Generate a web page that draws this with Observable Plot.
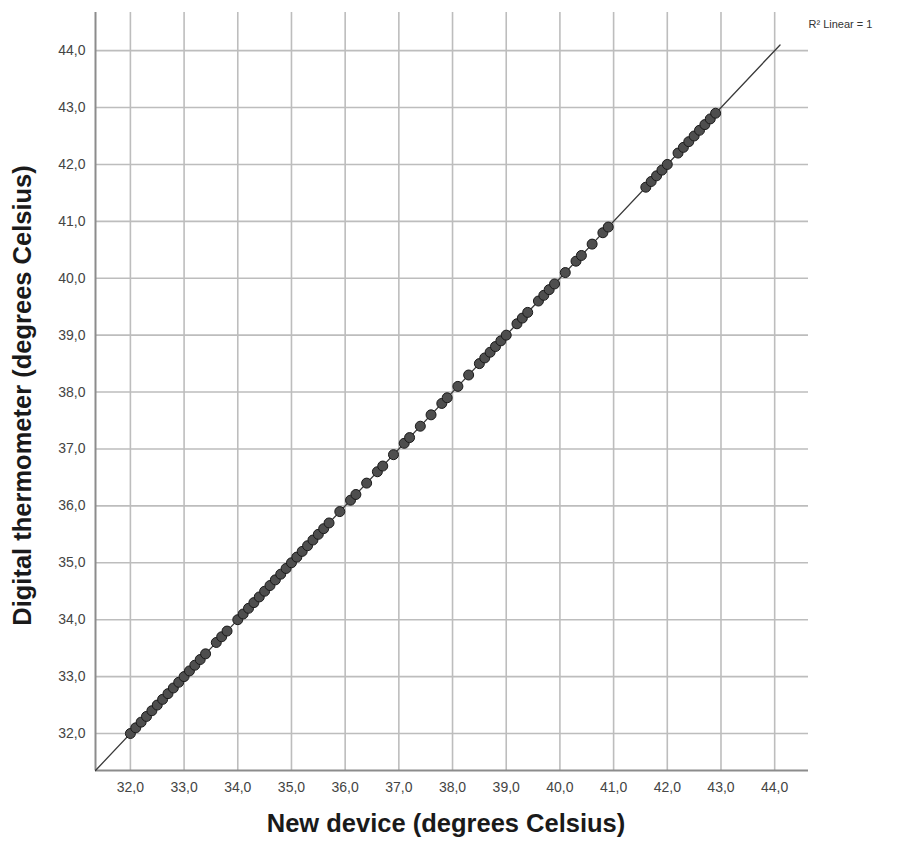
<!DOCTYPE html>
<html>
<head>
<meta charset="utf-8">
<script src="https://cdn.jsdelivr.net/npm/d3@7"></script>
<script src="https://cdn.jsdelivr.net/npm/@observablehq/plot@0.6"></script>
<style>
  html, body { margin: 0; padding: 0; background: #fff; }
  #chart { width: 901px; height: 843px; }
</style>
</head>
<body>
<div id="chart"></div>
<script>
// New device readings (°C)
const newDevice = [
  32.0, 32.1, 32.2, 32.3, 32.4, 32.5, 32.6, 32.7, 32.8, 32.9,
  33.0, 33.1, 33.2, 33.3, 33.4, 33.6, 33.7, 33.8,
  34.0, 34.1, 34.2, 34.3, 34.4, 34.5, 34.6, 34.7, 34.8, 34.9,
  35.0, 35.1, 35.2, 35.3, 35.4, 35.5, 35.6, 35.7, 35.9,
  36.1, 36.2, 36.4, 36.6, 36.7, 36.9,
  37.1, 37.2, 37.4, 37.6, 37.8, 37.9,
  38.1, 38.3, 38.5, 38.6, 38.7, 38.8, 38.9, 39.0,
  39.2, 39.3, 39.4, 39.6, 39.7, 39.8, 39.9,
  40.1, 40.3, 40.4, 40.6, 40.8, 40.9,
  41.6, 41.7, 41.8, 41.9, 42.0,
  42.2, 42.3, 42.4, 42.5, 42.6, 42.7, 42.8, 42.9
];
// Digital thermometer readings (°C)
const thermometer = [
  32.0, 32.1, 32.2, 32.3, 32.4, 32.5, 32.6, 32.7, 32.8, 32.9,
  33.0, 33.1, 33.2, 33.3, 33.4, 33.6, 33.7, 33.8,
  34.0, 34.1, 34.2, 34.3, 34.4, 34.5, 34.6, 34.7, 34.8, 34.9,
  35.0, 35.1, 35.2, 35.3, 35.4, 35.5, 35.6, 35.7, 35.9,
  36.1, 36.2, 36.4, 36.6, 36.7, 36.9,
  37.1, 37.2, 37.4, 37.6, 37.8, 37.9,
  38.1, 38.3, 38.5, 38.6, 38.7, 38.8, 38.9, 39.0,
  39.2, 39.3, 39.4, 39.6, 39.7, 39.8, 39.9,
  40.1, 40.3, 40.4, 40.6, 40.8, 40.9,
  41.6, 41.7, 41.8, 41.9, 42.0,
  42.2, 42.3, 42.4, 42.5, 42.6, 42.7, 42.8, 42.9
];
// Fit line (R² linear = 1): intercept 0, slope 1, drawn over this x extent
const fitIntercept = 0;
const fitSlope = 1;
const fitExtent = [31.35, 44.1];
// Axis ticks
const xTicks = [32, 33, 34, 35, 36, 37, 38, 39, 40, 41, 42, 43, 44];
const yTicks = [32, 33, 34, 35, 36, 37, 38, 39, 40, 41, 42, 43, 44];
const xDomain = [31.35, 44.63];
const yDomain = [31.35, 44.67];
const xTitle = "New device (degrees Celsius)";
const yTitle = "Digital thermometer (degrees Celsius)";
const fitLabel = "R\u00B2 Linear = 1";

const points = newDevice.map((x, i) => ({x, y: thermometer[i]}));
const fitLine = fitExtent.map(x => ({x, y: fitIntercept + fitSlope * x}));
const fmt = d => d.toFixed(1).replace(".", ",");

const chart = Plot.plot({
  width: 901,
  height: 843,
  marginLeft: 95,
  marginRight: 93,
  marginTop: 12,
  marginBottom: 73,
  style: {fontFamily: "'Liberation Sans', Arial, sans-serif", background: "#fff", overflow: "visible"},
  x: {domain: xDomain, ticks: xTicks},
  y: {domain: yDomain, ticks: yTicks},
  marks: [
    Plot.gridX(xTicks, {stroke: "#bdbdbd", strokeOpacity: 1, strokeWidth: 1.6}),
    Plot.gridY(yTicks, {stroke: "#bdbdbd", strokeOpacity: 1, strokeWidth: 1.6}),
    Plot.ruleX([xDomain[0]], {stroke: "#8c8c8c", strokeWidth: 2}),
    Plot.ruleY([yDomain[0]], {stroke: "#8c8c8c", strokeWidth: 2}),
    Plot.axisX(xTicks, {tickSize: 0, tickPadding: 12, tickFormat: fmt, fontSize: 14, fill: "#444", label: null}),
    Plot.axisY(yTicks, {tickSize: 0, tickPadding: 10, tickFormat: fmt, fontSize: 14, fill: "#444", label: null}),
    Plot.line(fitLine, {x: "x", y: "y", stroke: "#3a3a3a", strokeWidth: 1.3, clip: false}),
    Plot.dot(points, {x: "x", y: "y", r: 5, fill: "#4e4e4e", stroke: "#1a1a1a", strokeWidth: 1}),
    Plot.text([xTitle], {frameAnchor: "bottom", dx: -6, dy: 61, fontSize: 25.5, fontWeight: "bold", fill: "#1a1a1a", text: d => d}),
    Plot.text([yTitle], {frameAnchor: "left", dx: -73, dy: 4, rotate: -90, textAnchor: "middle", fontSize: 25.5, fontWeight: "bold", fill: "#1a1a1a", text: d => d}),
    Plot.text([fitLabel], {frameAnchor: "top-right", textAnchor: "start", dx: 0, dy: 8, fontSize: 11, fill: "#333", text: d => d})
  ]
});
document.getElementById("chart").appendChild(chart);
</script>
</body>
</html>
